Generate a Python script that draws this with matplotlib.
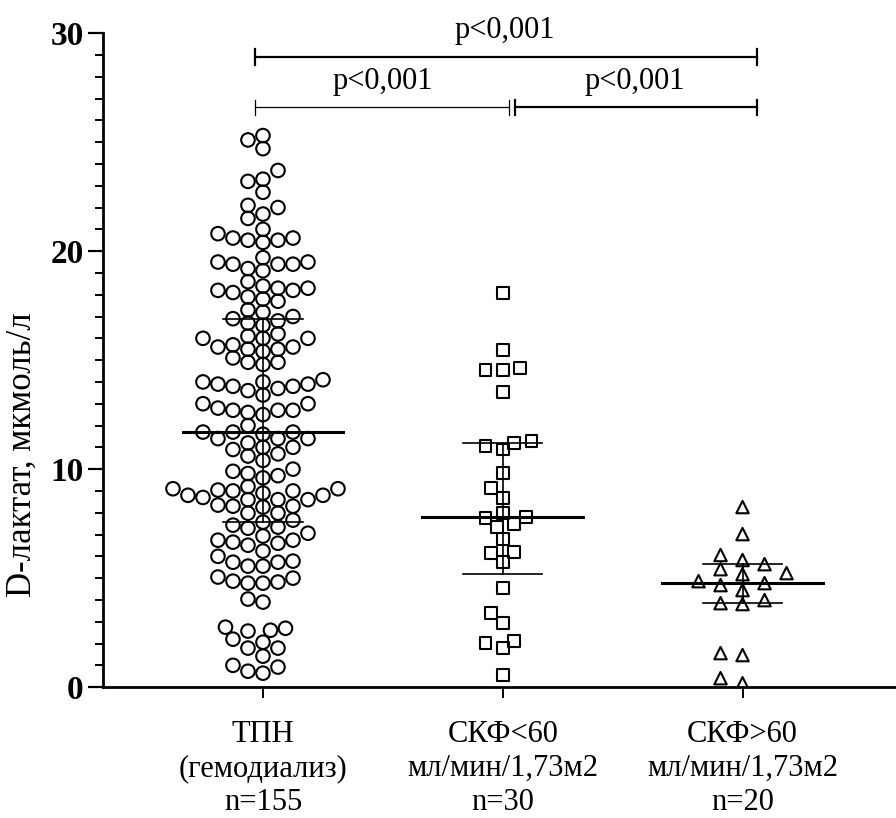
import numpy as np
import matplotlib
matplotlib.use("Agg")
import matplotlib.pyplot as plt

plt.rcParams['font.family'] = ['Liberation Serif', 'DejaVu Serif']

# values (мкмоль/л)
tpn = [25.1, 24.7, 25.3, 23.7, 23.2, 23.3, 22.7, 22.1, 21.7, 22.0, 21.5,
       20.8, 20.6, 21.0, 20.4, 20.5, 20.5, 20.6,
       19.5, 19.4, 19.7, 19.1, 19.4, 19.4, 19.2, 19.5,
       18.6, 18.2, 17.9, 18.1, 18.4, 18.3, 18.3, 18.2, 17.8, 17.7,
       17.3, 17.2, 17.0, 16.9, 16.8, 16.6, 16.7, 16.2,
       16.0, 15.7, 16.0, 15.6, 16.0, 16.1, 15.4, 15.1, 15.5, 15.6, 15.5, 14.8, 14.9, 14.9,
       14.0, 13.8, 13.9, 14.0, 14.1, 13.8, 13.7, 13.6, 13.9,
       13.4, 12.7, 13.0, 13.0, 12.5, 12.7, 12.6, 12.7, 12.8, 12.0,
       11.7, 11.7, 11.7, 11.6, 11.4, 11.4, 11.2, 11.4,
       11.0, 11.0, 10.6, 10.4, 10.9, 10.7,
       10.0, 9.9, 9.8, 9.7, 9.6,
       9.04, 8.8, 8.6, 9.0, 9.1, 8.6, 8.8, 9.2, 8.7, 9.0, 8.9, 8.6, 9.1,
       8.3, 8.3, 8.35, 8.26, 7.98, 7.98,
       7.66, 7.57, 7.43, 7.29, 7.34, 7.06, 6.93, 6.6, 6.65, 6.74, 6.74, 6.51,
       6.24, 6.0, 5.73, 5.78, 5.73, 5.55, 5.55,
       4.82, 4.86, 4.77, 5.05, 5.0, 4.77, 3.9, 4.04,
       2.61, 2.7, 2.57, 2.75, 2.06, 2.2, 1.79, 1.79, 1.42,
       0.73, 0.92, 1.0, 0.64]
skf_lt60 = [18.07, 15.46, 14.63, 14.54, 14.54, 13.53, 11.05, 11.2, 10.9, 11.28,
            9.82, 9.13, 8.67, 7.98, 7.8, 7.75, 7.48, 7.34, 6.79, 6.15, 6.19,
            5.73, 4.54, 3.39, 2.94, 2.11, 2.02, 1.79, 0.55]
skf_gt60 = [8.26, 7.02, 5.83, 6.06, 5.64, 5.41, 5.18, 5.23, 4.77, 4.86, 4.68,
            4.45, 3.81, 3.85, 3.99, 1.47, 1.56, 0.18, 0.41]

medians = [11.7, 7.8, 4.77]
q_low = [7.57, 5.18, 3.85]
q_high = [16.9, 11.2, 5.64]

labels = ["ТПН\n(гемодиализ)\nn=155",
          "СКФ<60\nмл/мин/1,73м2\nn=30",
          "СКФ>60\nмл/мин/1,73м2\nn=20"]
p_text = "p<0,001"

W, H = 896, 818
fig = plt.figure(figsize=(W / 100, H / 100), dpi=100)
ax = fig.add_axes([0.115, 0.160, 0.885, 0.7995])
xmin, xmax = -0.667, 2.64
ax.set_xlim(xmin, xmax)
ax.set_ylim(0, 30)

ppx = 0.885 * W / (xmax - xmin)   # pixels per x unit
ppy = 0.7995 * H / 30.0           # pixels per y unit


def swarm(vals, wx, wy, step):
    # simple beeswarm, elliptical collision in pixels
    vals = np.asarray(vals, float)
    xs = np.zeros(len(vals))
    placed = []
    for i in np.argsort(vals):
        y = vals[i] * ppy
        for k in [0] + [s * j for j in range(1, 40) for s in (-1, 1)]:
            x = k * step
            if all(((x - px) / wx) ** 2 + ((y - py) / wy) ** 2 >= 1 for px, py in placed):
                break
        placed.append((x, y))
        xs[i] = x / ppx
    return xs


groups = [tpn, skf_lt60, skf_gt60]
markers = ['o', 's', '^']
sizes = [95, 70, 80]
lay = [(15, 13, 7.5), (12.5, 13, 5.75), (22, 13, 11)]
for g, (vals, m, s, (wx, wy, st)) in enumerate(zip(groups, markers, sizes, lay)):
    xs = swarm(vals, wx, wy, st)
    ax.scatter(g + xs, vals, marker=m, s=s, facecolors='none',
               edgecolors='black', linewidths=1.5, zorder=3)
    ax.plot([g - 0.335, g + 0.335], [medians[g]] * 2, color='black', lw=2.2, zorder=4)
    ax.plot([g - 0.165, g + 0.165], [q_low[g]] * 2, color='black', lw=1.2, zorder=4)
    ax.plot([g - 0.165, g + 0.165], [q_high[g]] * 2, color='black', lw=1.2, zorder=4)
    ax.plot([g, g], [q_low[g], q_high[g]], color='black', lw=1.2, zorder=4)

# significance brackets
def bracket(x0, x1, y, lw):
    ax.plot([x0, x1], [y, y], color='black', lw=lw, clip_on=False)
    for xx in (x0, x1):
        ax.plot([xx, xx], [y - 0.35, y + 0.35], color='black', lw=lw, clip_on=False)

bracket(-0.033, 2.06, 28.9, 1.6)
bracket(-0.033, 1.025, 26.6, 0.9)
bracket(1.05, 2.06, 26.6, 1.6)
ax.text(1.01, 29.45, p_text, ha='center', va='bottom', fontsize=22)
ax.text(0.5, 27.1, p_text, ha='center', va='bottom', fontsize=22)
ax.text(1.55, 27.1, p_text, ha='center', va='bottom', fontsize=22)

for side in ('top', 'right'):
    ax.spines[side].set_visible(False)
ax.spines['left'].set_linewidth(2.0)
ax.spines['bottom'].set_linewidth(2.0)

ax.set_yticks([0, 10, 20, 30])
ax.set_yticks(np.arange(0, 31, 1), minor=True)
ax.tick_params(axis='y', which='major', length=11, width=1.6, labelsize=24, pad=3)
ax.tick_params(axis='y', which='minor', length=6, width=1.4)
for t in ax.get_yticklabels():
    t.set_fontweight('bold')

ax.set_xticks([0, 1, 2])
ax.set_xticklabels(labels, fontsize=22, linespacing=1.22)
ax.tick_params(axis='x', length=8, width=1.4, pad=16)

fig.text(22 / W, 1 - 455 / H, "D-лактат, мкмоль/л", rotation=90,
         ha='center', va='center', fontsize=25)

fig.savefig("out.png", dpi=100)
